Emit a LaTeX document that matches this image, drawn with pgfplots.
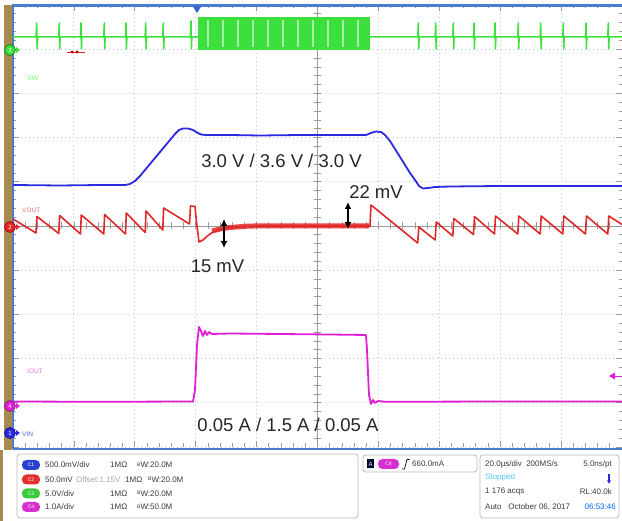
\documentclass[border=0pt]{standalone}
\usepackage{pgfplots}
\pgfplotsset{compat=1.18}
\usepackage{fontspec}
\setmainfont{Liberation Sans}
\usetikzlibrary{arrows.meta}
\definecolor{bordblue}{HTML}{4A7BD0}
\definecolor{trgreen}{HTML}{3CE03C}
\definecolor{palegreen}{HTML}{A8F0A8}
\definecolor{trblue}{HTML}{2A2AE0}
\definecolor{trred}{HTML}{E02828}
\definecolor{trmag}{HTML}{E01ED6}
\definecolor{brownstrip}{HTML}{A88A50}
\definecolor{gridgray}{HTML}{C4C4C4}
\definecolor{tickgray}{HTML}{9A9A9A}
\definecolor{paneltext}{HTML}{3A3A3A}
\definecolor{pillblue}{HTML}{2A3FD0}
\definecolor{pillred}{HTML}{E03030}
\definecolor{pillgreen}{HTML}{3CCB3C}
\definecolor{pillmag}{HTML}{D830D0}
\newcommand{\fs}[1]{\fontsize{#1}{#1}\selectfont}
\begin{document}
\begin{tikzpicture}
\path[use as bounding box] (0,0) rectangle (622pt,521pt);
\begin{axis}[
  at={(13pt,74pt)}, anchor=south west,
  scale only axis, width=609pt, height=442pt,
  xmin=13, xmax=622, ymin=5, ymax=447, y dir=reverse,
  clip=false,
  axis line style={draw=none},
  xtick={13,73.9,134.8,195.7,256.6,317.5,378.4,439.3,500.2,561.1,622},
  ytick={5,49.2,93.4,137.6,181.8,226,270.2,314.4,358.6,402.8,447},
  minor x tick num=4, minor y tick num=4,
  xticklabels={}, yticklabels={},
  tick align=inside,
  major tick length=6pt, minor tick length=3.5pt,
  tick style={tickgray, line width=0.7pt},
  grid=major, major grid style={gridgray, line width=0.8pt, dash pattern=on 1pt off 3pt},
  line join=round,
]
% center cross
\draw[tickgray, line width=0.8pt] (axis cs:13,226) -- (axis cs:622,226);
\draw[tickgray, line width=0.8pt] (axis cs:317.5,5) -- (axis cs:317.5,447);
\pgfplotsinvokeforeach{1,...,49}{\draw[tickgray, line width=0.7pt] (axis cs:{13+12.18*#1},222.5) -- (axis cs:{13+12.18*#1},229.5);}
\pgfplotsinvokeforeach{1,...,49}{\draw[tickgray, line width=0.7pt] (axis cs:314,{5+8.84*#1}) -- (axis cs:321,{5+8.84*#1});}
% borders
\fill[brownstrip] (axis cs:4,5) rectangle (axis cs:12,450);
\fill[brownstrip] (axis cs:0,450) rectangle (axis cs:3,521);
\draw[bordblue, line width=2.2pt] (axis cs:12,5.5) -- (axis cs:622,5.5);
\draw[bordblue, line width=2pt] (axis cs:13,5) -- (axis cs:13,449);
\draw[bordblue, line width=2pt] (axis cs:13,449) -- (axis cs:622,449);
% trigger marker
\fill[bordblue!80!blue] (axis cs:192.5,6) -- (axis cs:201.5,6) -- (axis cs:197,13) -- cycle;

% ---- green SW trace
\addplot[trgreen, line width=1.5pt, mark=none] coordinates {
(13,37) (36.1,37) (36.7,23) (37.1,49) (37.6,37) (58.7,37) (59.3,23) (59.7,49) (60.2,37)
(80.4,37) (81,23) (81.4,49) (81.9,37) (103.7,37) (104.3,23) (104.7,49) (105.2,37)
(125.4,37) (126,23) (126.4,49) (126.9,37) (145.1,37) (145.7,23) (146.1,49) (146.6,37)
(162.7,37) (163.3,23) (163.7,49) (164.2,37) (190.4,37) (191,21) (191.4,49) (191.9,37) (199,37)};
\addplot[fill=trgreen, draw=none] coordinates {(198,17) (370,17) (370,50) (198,50)} -- cycle;
\addplot[palegreen, line width=2.5pt, unbounded coords=jump, mark=none] coordinates {
(208,20) (208,47) (208,nan) (223,20) (223,47) (223,nan) (238,20) (238,47) (238,nan)
(253,20) (253,47) (253,nan) (268,20) (268,47) (268,nan) (283,20) (283,47) (283,nan)
(298,20) (298,47) (298,nan) (313,20) (313,47) (313,nan) (328,20) (328,47) (328,nan)
(343,20) (343,47) (343,nan) (358,20) (358,47)};
\addplot[trgreen, line width=1.5pt, mark=none] coordinates {
(369,37) (417.7,37) (418.3,23) (418.7,49) (419.2,37) (435.1,37) (435.7,23) (436.1,49) (436.6,37)
(452.7,37) (453.3,23) (453.7,49) (454.2,37) (473.4,37) (474,23) (474.4,49) (474.9,37)
(494.4,37) (495,23) (495.4,49) (495.9,37) (517.7,37) (518.3,23) (518.7,49) (519.2,37)
(540.1,37) (540.7,23) (541.1,49) (541.6,37) (562.7,37) (563.3,23) (563.7,49) (564.2,37)
(585.4,37) (586,23) (586.4,49) (586.9,37) (607.7,37) (608.3,23) (608.7,49) (609.2,37) (622,37)};

% ---- blue VIN trace
\addplot[trblue, line width=1.8pt, mark=none] coordinates {
(13,185) (60,185.5) (100,185) (125,185) (130,184) (135,181) (140,176) (145,170) (150,164)
(155,158) (160,152) (165,146) (170,140) (175,134) (179,130) (183,128.5) (188,128.5) (193,130)
(197,132.5) (201,134.5) (206,135) (230,135) (260,135.5) (300,135) (340,135) (366,135)
(371,133) (376,131.5) (381,132) (385,135) (390,141) (395,149) (400,157) (405,165) (410,173)
(415,180) (419,186) (423,188.5) (428,188) (435,187) (450,186.5) (500,186) (622,186)};

% ---- red VOUT trace
\addplot[trred, line width=5pt, opacity=0.85, mark=none] coordinates {
(212,231) (220,229) (230,227.5) (245,226.3) (260,225.8) (369,225.8)};
\addplot[trred, line width=1.6pt, mark=none] coordinates {
(13,219) (36,233) (37,216.5) (58.8,233.5) (59.6,215.5) (80.5,234) (81.3,215) (103.8,234)
(104.6,214.5) (125.5,234) (126.3,213) (145.2,232.5) (146,211) (162.8,230) (163.6,208)
(189.5,224) (190.5,206) (195,206.5) (196.5,222) (199,242) (203,240) (208,235.5) (213,232)
(220,229.5) (230,227.5) (245,226.5) (260,226) (370,226) (371,205) (417.7,243) (418.8,227)
(435.2,240) (436.2,222) (452.8,236) (453.8,218.5) (473.5,234.5) (474.5,216.5) (494.5,234)
(495.5,216) (517.8,234) (518.8,216) (540.2,234) (541.2,216) (562.8,234) (563.8,216)
(585.5,234) (586.5,216) (607.8,234) (608.8,216) (622,224.5)};

% ---- magenta IOUT trace
\addplot[trmag, line width=1.8pt, mark=none] coordinates {
(13,401.5) (100,401.8) (193,401.5) (195,390) (197,345) (199,327) (201,331) (203,336)
(205,331) (207,335) (209,332) (212,334) (230,333.5) (280,334) (330,334.5) (366,335)
(367,350) (369,395) (371,404) (373,400) (375,403) (378,401) (385,401.8) (500,401.5) (622,401.5)};

% ---- channel markers
\filldraw[fill=trgreen, draw=green!50!black, line width=0.6pt] (axis cs:10,50) circle[radius=5.5pt];
\node[white, font=\fs{6}] at (axis cs:10,50) {3};
\fill[trgreen] (axis cs:16,47) -- (axis cs:20,50) -- (axis cs:16,53) -- cycle;
\filldraw[fill=trred, draw=red!60!black, line width=0.6pt] (axis cs:10,227) circle[radius=5.5pt];
\node[white, font=\fs{6}] at (axis cs:10,227) {2};
\fill[trred] (axis cs:16,224) -- (axis cs:20,227) -- (axis cs:16,230) -- cycle;
\filldraw[fill=trmag, draw=trmag!60!black, line width=0.6pt] (axis cs:10,406) circle[radius=5.5pt];
\node[white, font=\fs{6}] at (axis cs:10,406) {4};
\fill[trmag] (axis cs:16,403) -- (axis cs:20,406) -- (axis cs:16,409) -- cycle;
\filldraw[fill=trblue, draw=blue!60!black, line width=0.6pt] (axis cs:10,433) circle[radius=5.5pt];
\node[white, font=\fs{6}] at (axis cs:10,433) {1};
\fill[trblue] (axis cs:16,430) -- (axis cs:20,433) -- (axis cs:16,436) -- cycle;
% small markers
\draw[trred, line width=0.6pt] (axis cs:67,52) -- (axis cs:85,52);
\fill[red!70!black] (axis cs:72,52) circle[radius=1.6pt];
\fill[red!70!black] (axis cs:77,52) circle[radius=1.6pt];
\fill[trmag] (axis cs:609,376) -- (axis cs:615,372.5) -- (axis cs:615,379.5) -- cycle;
\draw[trmag, line width=0.7pt] (axis cs:615,376) -- (axis cs:622,376);
% channel labels
\node[anchor=west, inner sep=0, text=green!55, font=\fs{7}] at (axis cs:27,78.5) {SW};
\node[anchor=west, inner sep=0, text=trred!65, font=\fs{6.5}] at (axis cs:22,210.5) {VOUT};
\node[anchor=west, inner sep=0, text=trmag!65, font=\fs{6.5}] at (axis cs:27,371) {IOUT};
\node[anchor=west, inner sep=0, text=trblue!80, font=\fs{6.5}] at (axis cs:22,434.5) {VIN};

% ---- annotations
\node[anchor=base, inner sep=0, text=black!85, font=\fs{18.5}] at (axis cs:281.5,168) {3.0 V / 3.6 V / 3.0 V};
\node[anchor=base, inner sep=0, text=black!85, font=\fs{18.5}] at (axis cs:376,199) {22 mV};
\node[anchor=base, inner sep=0, text=black!85, font=\fs{18.5}] at (axis cs:217.5,273) {15 mV};
\node[anchor=base, inner sep=0, text=black!85, font=\fs{18.5}] at (axis cs:288,432) {0.05 A / 1.5 A / 0.05 A};
\draw[black, line width=1.6pt, {Latex[length=7pt,width=7pt]}-{Latex[length=7pt,width=7pt]}] (axis cs:224,219) -- (axis cs:224,248);
\draw[black, line width=1.6pt, {Latex[length=7pt,width=7pt]}-{Latex[length=7pt,width=7pt]}] (axis cs:348,202) -- (axis cs:348,229);

% ---- info panel
\draw[gray!55, line width=0.8pt, rounded corners=3pt] (axis cs:17,454) rectangle (axis cs:358,518);
\draw[gray!55, line width=0.8pt, rounded corners=3pt] (axis cs:363,455) rectangle (axis cs:477,472);
\draw[gray!55, line width=0.8pt, rounded corners=3pt] (axis cs:480,455) rectangle (axis cs:619,518);
% rows
\fill[pillblue, rounded corners=4.5pt] (axis cs:22,460) rectangle (axis cs:40,470);
\node[white, font=\fs{5}] at (axis cs:31,465) {C1};
\fill[pillred, rounded corners=4.5pt] (axis cs:22,474.5) rectangle (axis cs:40,484.5);
\node[white, font=\fs{5}] at (axis cs:31,479.5) {C2};
\fill[pillgreen, rounded corners=4.5pt] (axis cs:22,488.5) rectangle (axis cs:40,498.5);
\node[white, font=\fs{5}] at (axis cs:31,493.5) {C3};
\fill[pillmag, rounded corners=4.5pt] (axis cs:22,502) rectangle (axis cs:40,512);
\node[white, font=\fs{5}] at (axis cs:31,507) {C4};
\node[anchor=west, inner sep=0, text=paneltext, font=\fs{8}] at (axis cs:45,465) {500.0mV/div};
\node[anchor=west, inner sep=0, text=paneltext, font=\fs{8}] at (axis cs:110,465) {1MΩ};
\node[anchor=west, inner sep=0, text=paneltext, font=\fs{8}] at (axis cs:137,465) {\raisebox{1.5pt}{\fs{5}B}W:20.0M};
\node[anchor=west, inner sep=0, text=paneltext, font=\fs{8}] at (axis cs:45,479.5) {50.0mV};
\node[anchor=west, inner sep=0, text=gray!70, font=\fs{8}] at (axis cs:76,479.5) {Offset:1.15V};
\node[anchor=west, inner sep=0, text=paneltext, font=\fs{8}] at (axis cs:125,479.5) {1MΩ};
\node[anchor=west, inner sep=0, text=paneltext, font=\fs{8}] at (axis cs:148,479.5) {\raisebox{1.5pt}{\fs{5}B}W:20.0M};
\node[anchor=west, inner sep=0, text=paneltext, font=\fs{8}] at (axis cs:45,493.5) {5.0V/div};
\node[anchor=west, inner sep=0, text=paneltext, font=\fs{8}] at (axis cs:110,493.5) {1MΩ};
\node[anchor=west, inner sep=0, text=paneltext, font=\fs{8}] at (axis cs:137,493.5) {\raisebox{1.5pt}{\fs{5}B}W:20.0M};
\node[anchor=west, inner sep=0, text=paneltext, font=\fs{8}] at (axis cs:45,507) {1.0A/div};
\node[anchor=west, inner sep=0, text=paneltext, font=\fs{8}] at (axis cs:110,507) {1MΩ};
\node[anchor=west, inner sep=0, text=paneltext, font=\fs{8}] at (axis cs:137,507) {\raisebox{1.5pt}{\fs{5}B}W:50.0M};
% trigger box
\fill[black!80!blue] (axis cs:367,459.5) rectangle (axis cs:374,468.5);
\node[white, font=\fs{6}] at (axis cs:370.5,464) {A};
\fill[pillmag, rounded corners=4.5pt] (axis cs:378,459) rectangle (axis cs:399,469);
\node[white, font=\fs{5}] at (axis cs:388.5,464) {C4};
\draw[black, line width=0.7pt] (axis cs:402,469) -- (axis cs:404.5,469) -- (axis cs:407,459.5) -- (axis cs:409.5,459.5);
\node[anchor=west, inner sep=0, text=paneltext, font=\fs{8}] at (axis cs:412,464) {660.0mA};
% timebase box
\node[anchor=west, inner sep=0, text=paneltext, font=\fs{8}] at (axis cs:485,464) {20.0µs/div\ \ 200MS/s};
\node[anchor=east, inner sep=0, text=paneltext, font=\fs{8}] at (axis cs:612,464) {5.0ns/pt};
\node[anchor=west, inner sep=0, text=cyan!70!white, font=\fs{8}] at (axis cs:485,477.5) {Stopped};
\draw[trblue, line width=1.6pt, -{Latex[length=3.5pt,width=4pt]}] (axis cs:609,474) -- (axis cs:609,484);
\node[anchor=west, inner sep=0, text=paneltext, font=\fs{8}] at (axis cs:485,492) {1 176 acqs};
\node[anchor=east, inner sep=0, text=paneltext, font=\fs{8}] at (axis cs:612,492) {RL:40.0k};
\node[anchor=west, inner sep=0, text=paneltext, font=\fs{8}] at (axis cs:485,507) {Auto\ \ \ October 06, 2017};
\node[anchor=east, inner sep=0, text=blue!60!cyan, font=\fs{8}] at (axis cs:616,507) {06:53:46};
\end{axis}
\end{tikzpicture}
\end{document}
